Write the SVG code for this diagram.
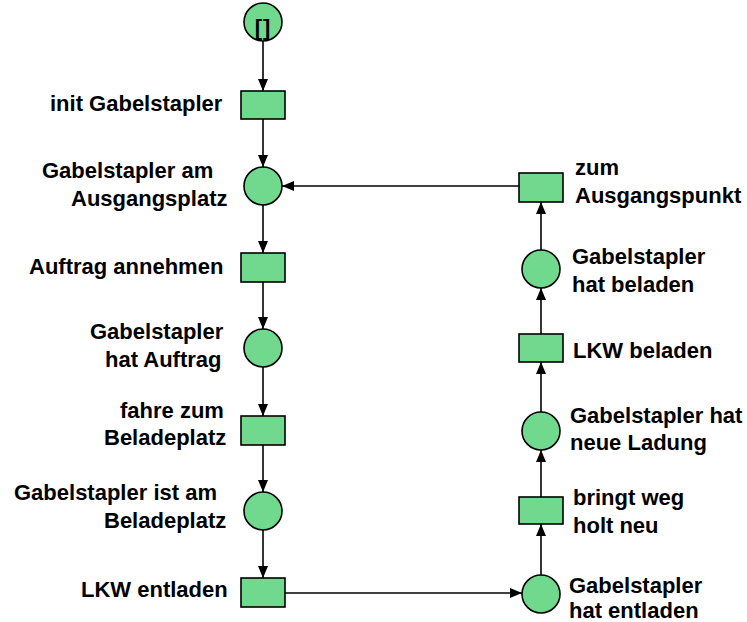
<svg xmlns="http://www.w3.org/2000/svg" width="747" height="622" viewBox="0 0 747 622">
  <style>
    .place { fill: #71D98E; stroke: #000; stroke-width: 1.6; }
    .trans { fill: #71D98E; stroke: #000; stroke-width: 1.6; }
    .lbl { font-family: "Liberation Sans", Arial, Helvetica, sans-serif; font-weight: bold; font-size: 22px; fill: #000; }
    .edge { stroke: #000; stroke-width: 1.6; fill: none; marker-end: url(#arrow); }
  </style>
  <defs>
    <marker id="arrow" markerUnits="userSpaceOnUse" markerWidth="12" markerHeight="12" viewBox="0 0 12 12" refX="12" refY="6" orient="auto">
      <path d="M0,1 L12,6 L0,11 Z" fill="#000"/>
    </marker>
  </defs>

  <rect width="747" height="622" fill="#fff"/>

  <!-- connectors -->
  <g id="connectors">
    <line class="edge" x1="263" y1="41" x2="263" y2="91"/>
    <line class="edge" x1="263" y1="119" x2="263" y2="167"/>
    <line class="edge" x1="263" y1="205" x2="263" y2="253"/>
    <line class="edge" x1="263" y1="282" x2="263" y2="329"/>
    <line class="edge" x1="263" y1="367" x2="263" y2="416"/>
    <line class="edge" x1="263" y1="445" x2="263" y2="492"/>
    <line class="edge" x1="263" y1="530" x2="263" y2="578"/>
    <line class="edge" x1="284" y1="593" x2="522" y2="593"/>
    <line class="edge" x1="541" y1="575" x2="541" y2="524"/>
    <line class="edge" x1="541" y1="497" x2="541" y2="450"/>
    <line class="edge" x1="541" y1="412" x2="541" y2="362"/>
    <line class="edge" x1="541" y1="334" x2="541" y2="288"/>
    <line class="edge" x1="541" y1="250" x2="541" y2="202"/>
    <line class="edge" x1="519" y1="186" x2="282" y2="186"/>
  </g>

  <!-- left column -->
  <g id="start">
    <circle class="place" cx="263" cy="22" r="19"/>
    <text class="lbl" x="263" y="35" text-anchor="middle" font-size="21" letter-spacing="1">[]</text>
  </g>
  <g id="init-gabelstapler">
    <rect class="trans" x="241" y="91" width="44" height="28"/>
    <text class="lbl" x="50" y="111">init Gabelstapler</text>
  </g>
  <g id="am-ausgangsplatz">
    <circle class="place" cx="263" cy="186" r="19"/>
    <text class="lbl" x="42" y="178">Gabelstapler am</text>
    <text class="lbl" x="71" y="206">Ausgangsplatz</text>
  </g>
  <g id="auftrag-annehmen">
    <rect class="trans" x="241" y="253" width="44" height="29"/>
    <text class="lbl" x="29" y="274">Auftrag annehmen</text>
  </g>
  <g id="hat-auftrag">
    <circle class="place" cx="263" cy="348" r="19"/>
    <text class="lbl" x="90" y="339">Gabelstapler</text>
    <text class="lbl" x="105" y="367">hat Auftrag</text>
  </g>
  <g id="fahre-zum-beladeplatz">
    <rect class="trans" x="241" y="416" width="44" height="29"/>
    <text class="lbl" x="120" y="418">fahre zum</text>
    <text class="lbl" x="104" y="445">Beladeplatz</text>
  </g>
  <g id="ist-am-beladeplatz">
    <circle class="place" cx="263" cy="511" r="19"/>
    <text class="lbl" x="14" y="500">Gabelstapler ist am</text>
    <text class="lbl" x="104" y="528">Beladeplatz</text>
  </g>
  <g id="lkw-entladen">
    <rect class="trans" x="241" y="578" width="44" height="29"/>
    <text class="lbl" x="81" y="597">LKW entladen</text>
  </g>

  <!-- right column -->
  <g id="hat-entladen">
    <circle class="place" cx="541" cy="594" r="19"/>
    <text class="lbl" x="569" y="593">Gabelstapler</text>
    <text class="lbl" x="569" y="618">hat entladen</text>
  </g>
  <g id="bringt-weg-holt-neu">
    <rect class="trans" x="519" y="497" width="44" height="27"/>
    <text class="lbl" x="573" y="505">bringt weg</text>
    <text class="lbl" x="573" y="533">holt neu</text>
  </g>
  <g id="neue-ladung">
    <circle class="place" cx="541" cy="431" r="19"/>
    <text class="lbl" x="570" y="423">Gabelstapler hat</text>
    <text class="lbl" x="570" y="450">neue Ladung</text>
  </g>
  <g id="lkw-beladen">
    <rect class="trans" x="519" y="334" width="44" height="28"/>
    <text class="lbl" x="573" y="358">LKW beladen</text>
  </g>
  <g id="hat-beladen">
    <circle class="place" cx="541" cy="269" r="19"/>
    <text class="lbl" x="572" y="264">Gabelstapler</text>
    <text class="lbl" x="572" y="292">hat beladen</text>
  </g>
  <g id="zum-ausgangspunkt">
    <rect class="trans" x="519" y="173" width="44" height="29"/>
    <text class="lbl" x="575" y="175">zum</text>
    <text class="lbl" x="575" y="203">Ausgangspunkt</text>
  </g>
</svg>
